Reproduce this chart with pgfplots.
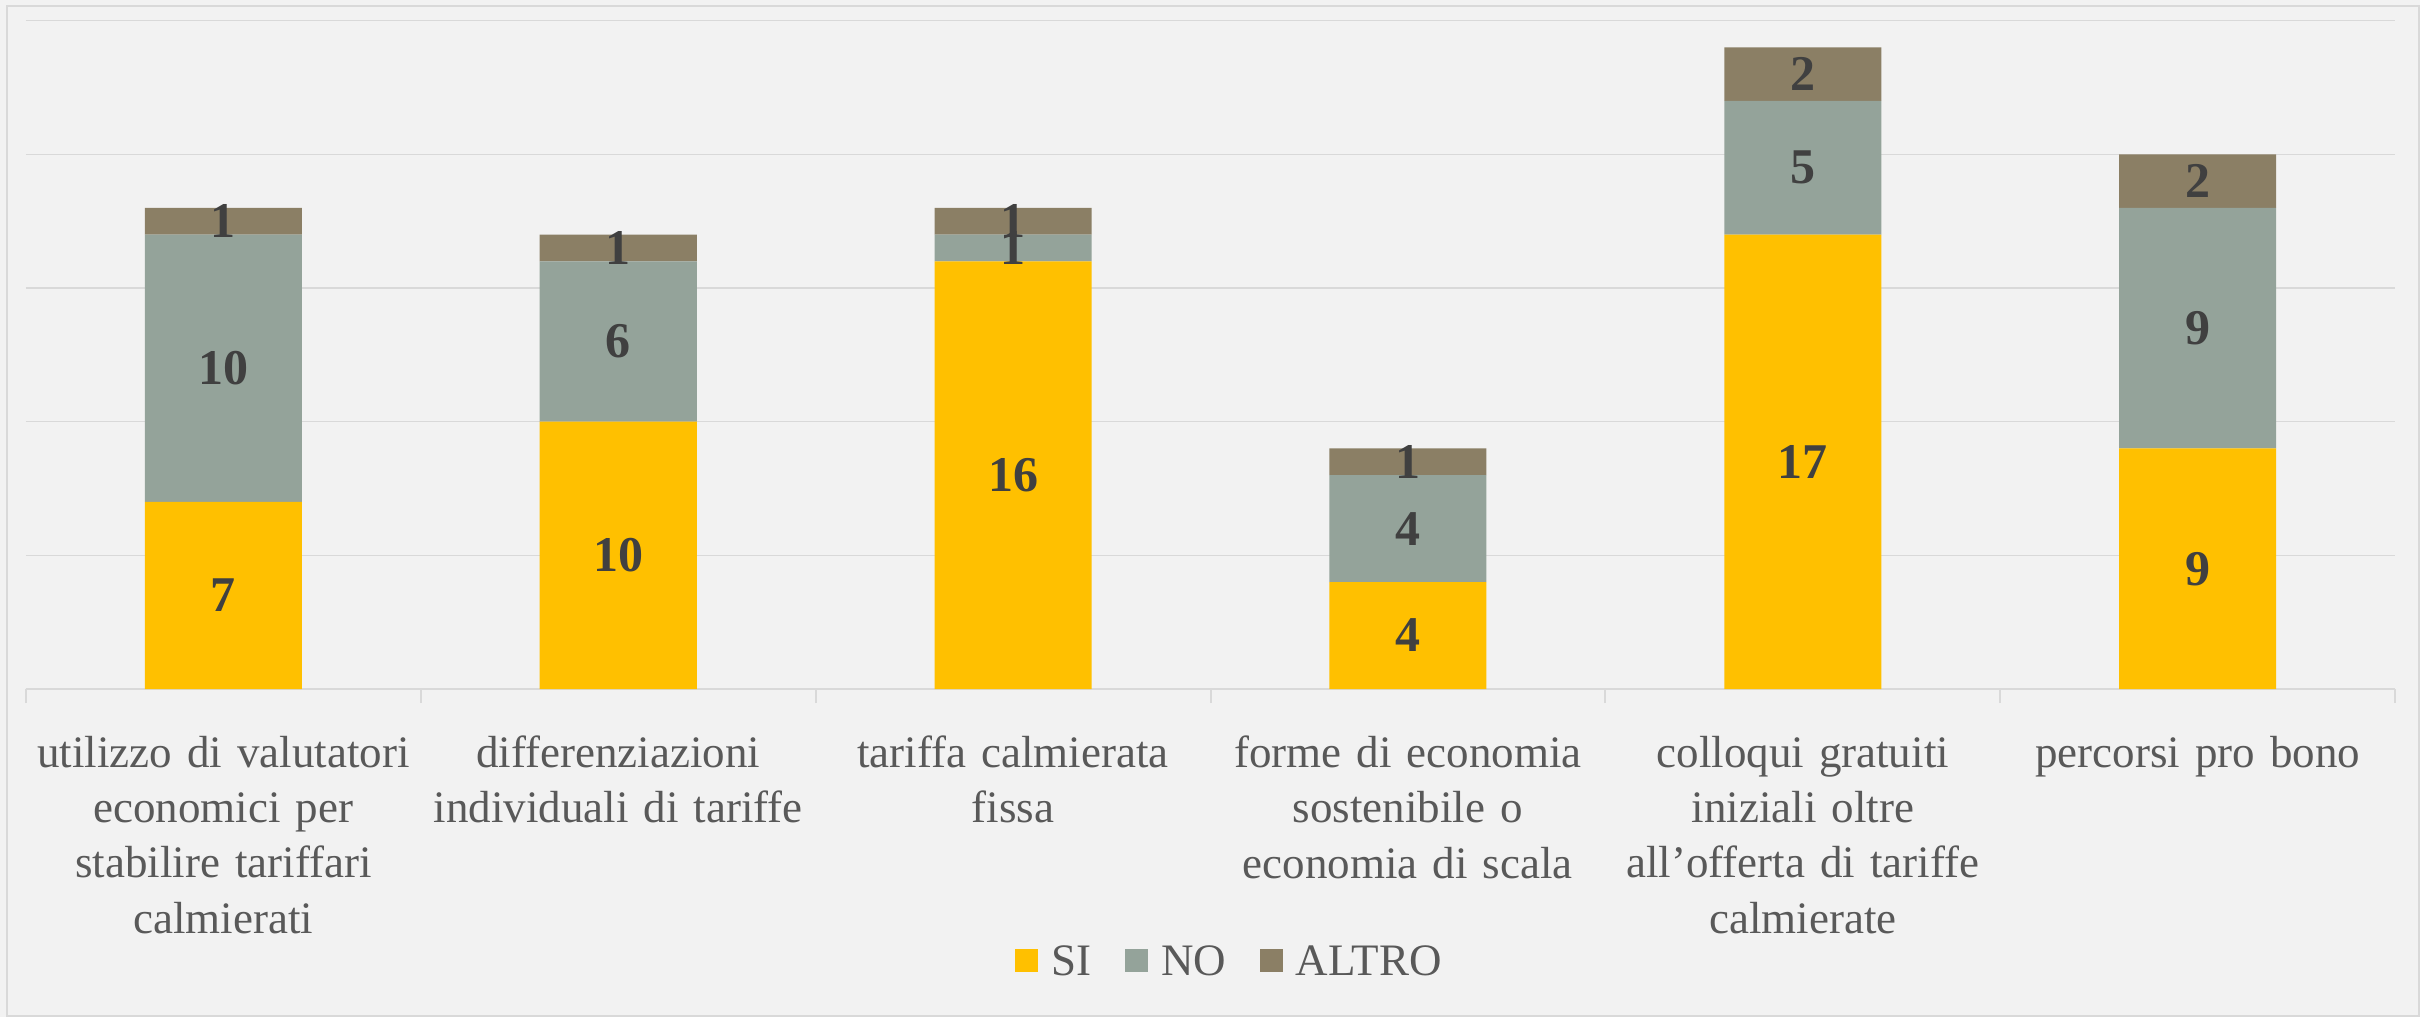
\documentclass[border=0pt]{standalone}
\usepackage{fontspec}
\setmainfont{Liberation Serif}
\usepackage{pgfplots}
\pgfplotsset{compat=1.18}
\definecolor{bg}{HTML}{F2F2F2}
\definecolor{gridc}{HTML}{D9D9D9}
\definecolor{si}{HTML}{FFC000}
\definecolor{no}{HTML}{94A39A}
\definecolor{altro}{HTML}{8B7F65}
\definecolor{txt}{HTML}{595959}
\definecolor{lbl}{HTML}{404040}
\begin{document}
\begin{tikzpicture}
\fill[bg] (-7.8pt,-98.4pt) rectangle (718.2pt,206.7pt);
\draw[gridc, line width=0.5pt] (-5.7pt,-98.0pt) rectangle (717.9pt,204.9pt);
\begin{axis}[
  at={(0,0)}, anchor=south west,
  scale only axis, width=710.7pt, height=200.5pt,
  ybar stacked, bar width=47.1pt,
  xmin=-0.5, xmax=5.5, ymin=0, ymax=25,
  axis x line*=bottom, axis y line*=left,
  x axis line style={draw=gridc, line width=0.7pt},
  y axis line style={draw=none},
  ytick={0,5,10,15,20,25}, yticklabels={},
  ymajorgrids, grid style={draw=gridc, line width=0.45pt},
  major tick length=0pt,
  tick style={draw=gridc, line width=0.6pt},
  xtick={0,1,2,3,4,5},
  xticklabels={{utilizzo di valutatori\\economici per\\stabilire tariffari\\calmierati},
               {differenziazioni\\individuali di tariffe},
               {tariffa calmierata\\fissa},
               {forme di economia\\sostenibile o\\economia di scala},
               {colloqui gratuiti\\iniziali oltre\\all’offerta di tariffe\\calmierate},
               {percorsi pro bono}},
  xticklabel style={text width=118pt, align=center, anchor=north, yshift=-10.5pt,
     font=\fontsize{13.5}{16.6}\selectfont, text=txt},
  extra x ticks={-0.5,0.5,1.5,2.5,3.5,4.5,5.5},
  extra x tick labels={},
  extra x tick style={major tick length=4.2pt, tick align=outside, grid=none},
  /pgf/number format/assume math mode=true,
  nodes near coords,
  every node near coord/.append style={anchor=center,
     font=\bfseries\fontsize{15}{15}\selectfont, text=lbl},
  legend columns=3,
  legend style={at={(0.509,0)}, anchor=center, yshift=-82.2pt, draw=none, fill=none,
     font=\fontsize{13.5}{16}\selectfont, text=txt,
     /tikz/every even column/.append style={column sep=8pt}},
  legend image code/.code={\fill[#1] (0pt,-2.7pt) rectangle (6.9pt,4.2pt);},
  legend cell align=left,
]
\addplot[fill=si, draw=none] coordinates {(0,7) (1,10) (2,16) (3,4) (4,17) (5,9)};
\addplot[fill=no, draw=none] coordinates {(0,10) (1,6) (2,1) (3,4) (4,5) (5,9)};
\addplot[fill=altro, draw=none] coordinates {(0,1) (1,1) (2,1) (3,1) (4,2) (5,2)};
\legend{\hspace{2pt}SI,\hspace{2pt}NO,\hspace{2pt}ALTRO}
\end{axis}
\pgfresetboundingbox
\path[use as bounding box] (-7.8pt,-98.4pt) rectangle (718.2pt,206.7pt);
\end{tikzpicture}
\end{document}
